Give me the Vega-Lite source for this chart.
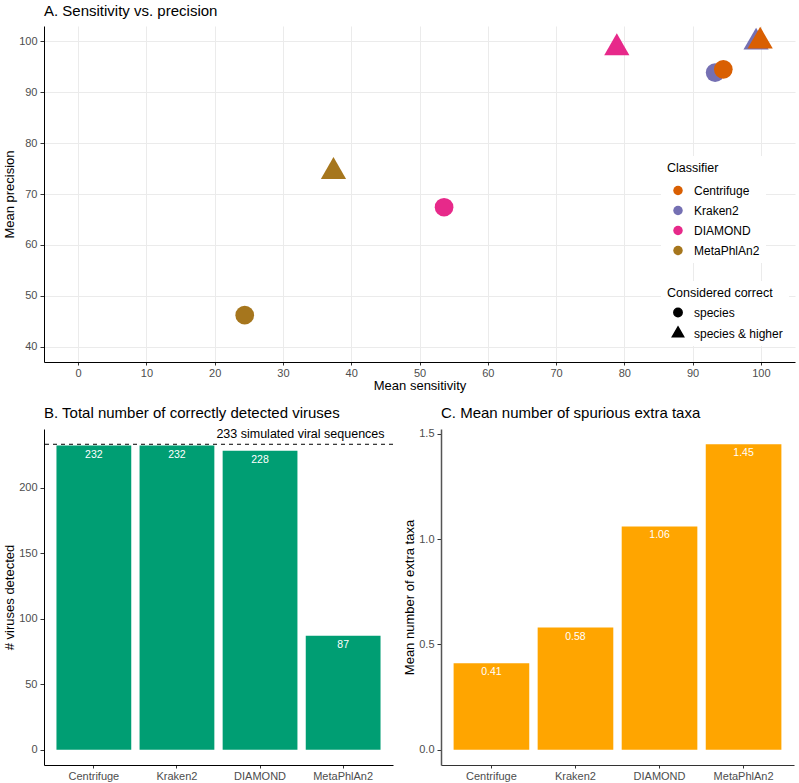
{
  "$schema": "https://vega.github.io/schema/vega-lite/v6.json",
  "padding": {"left": 3, "top": 4, "right": 3, "bottom": 2},
  "background": "white",
  "config": {
    "font": "Liberation Sans",
    "view": {"stroke": null},
    "title": {"fontSize": 15, "fontWeight": "normal", "anchor": "start", "frame": "group", "offset": 7, "color": "black"},
    "axis": {"labelColor": "#4D4D4D", "labelFontSize": 11, "titleFontSize": 13, "titleFontWeight": "normal", "titleColor": "black", "tickColor": "#333333", "tickSize": 3, "labelPadding": 2, "titlePadding": 2, "domainColor": "black", "domainWidth": 1, "grid": false},
    "axisY": {"tickSize": 4, "labelPadding": 3},
    "legend": {"titleFontWeight": "normal", "titleFontSize": 12.5, "labelFontSize": 12, "titleColor": "black", "labelColor": "black"}
  },
  "datasets": {
    "points": [
      {"classifier": "MetaPhlAn2", "correct": "species", "sensitivity": 24.4, "precision": 46.2},
      {"classifier": "MetaPhlAn2", "correct": "species & higher", "sensitivity": 37.4, "precision": 74.4},
      {"classifier": "DIAMOND", "correct": "species", "sensitivity": 53.6, "precision": 67.4},
      {"classifier": "DIAMOND", "correct": "species & higher", "sensitivity": 78.9, "precision": 98.7},
      {"classifier": "Kraken2", "correct": "species", "sensitivity": 93.3, "precision": 93.85},
      {"classifier": "Kraken2", "correct": "species & higher", "sensitivity": 99.3, "precision": 99.8},
      {"classifier": "Centrifuge", "correct": "species", "sensitivity": 94.5, "precision": 94.5},
      {"classifier": "Centrifuge", "correct": "species & higher", "sensitivity": 99.9, "precision": 100.0}
    ],
    "viruses": [
      {"classifier": "Centrifuge", "detected": 232},
      {"classifier": "Kraken2", "detected": 232},
      {"classifier": "DIAMOND", "detected": 228},
      {"classifier": "MetaPhlAn2", "detected": 87}
    ],
    "simulated": [
      {"classifier": "MetaPhlAn2", "simulated": 233, "label": "233 simulated viral sequences"}
    ],
    "extra": [
      {"classifier": "Centrifuge", "extra": 0.41},
      {"classifier": "Kraken2", "extra": 0.58},
      {"classifier": "DIAMOND", "extra": 1.06},
      {"classifier": "MetaPhlAn2", "extra": 1.45}
    ]
  },
  "spacing": 13,
  "vconcat": [
    {
      "title": {"text": "A. Sensitivity vs. precision"},
      "width": 751,
      "height": 336,
      "data": {"name": "points"},
      "mark": {"type": "point", "filled": true, "opacity": 1, "size": 350},
      "encoding": {
        "x": {"field": "sensitivity", "type": "quantitative",
          "scale": {"domain": [-5, 105], "nice": false, "zero": false},
          "axis": {"values": [0, 10, 20, 30, 40, 50, 60, 70, 80, 90, 100], "title": "Mean sensitivity", "grid": true, "gridColor": "#EBEBEB", "gridWidth": 1, "titlePadding": 1}},
        "y": {"field": "precision", "type": "quantitative",
          "scale": {"domain": [37, 103], "nice": false, "zero": false},
          "axis": {"values": [40, 50, 60, 70, 80, 90, 100], "title": "Mean precision", "grid": true, "gridColor": "#EBEBEB", "gridWidth": 1}},
        "color": {"field": "classifier", "type": "nominal",
          "scale": {"domain": ["Centrifuge", "Kraken2", "DIAMOND", "MetaPhlAn2"], "range": ["#D95F02", "#7570B3", "#E7298A", "#A6761D"]},
          "legend": {"title": "Classifier", "orient": "none", "legendX": 617, "legendY": 130, "fillColor": "white", "padding": 6, "symbolType": "circle", "symbolSize": 90, "symbolOffset": 5, "labelOffset": 10, "rowPadding": 8, "titlePadding": 10}},
        "shape": {"field": "correct", "type": "nominal",
          "scale": {"domain": ["species", "species & higher"], "range": ["circle", "M0,-1.555L1.347,0.778L-1.347,0.778Z"]},
          "legend": {"title": "Considered correct", "orient": "none", "legendX": 617, "legendY": 255, "fillColor": "white", "padding": 6, "symbolSize": 70, "symbolFillColor": "black", "symbolStrokeColor": "black", "symbolOffset": 5, "labelOffset": 10, "rowPadding": 3, "titlePadding": 7}}
      }
    },
    {
      "spacing": 9,
      "hconcat": [
        {
          "title": {"text": "B. Total number of correctly detected viruses"},
          "width": 349,
          "height": 336,
          "layer": [
            {
              "data": {"name": "viruses"},
              "mark": {"type": "bar", "color": "#009E73"},
              "encoding": {
                "x": {"field": "classifier", "type": "nominal",
                  "scale": {"domain": ["Centrifuge", "Kraken2", "DIAMOND", "MetaPhlAn2"], "paddingInner": 0.1, "paddingOuter": 0.15},
                  "axis": {"title": null, "labelAngle": 0}},
                "y": {"field": "detected", "type": "quantitative",
                  "scale": {"domain": [-11.65, 244.65], "nice": false, "zero": false},
                  "axis": {"values": [0, 50, 100, 150, 200], "title": "# viruses detected"}}
              }
            },
            {
              "data": {"name": "viruses"},
              "mark": {"type": "text", "baseline": "top", "dy": 4, "color": "white", "fontSize": 10.5},
              "encoding": {
                "x": {"field": "classifier", "type": "nominal"},
                "y": {"field": "detected", "type": "quantitative"},
                "text": {"field": "detected", "type": "quantitative"}
              }
            },
            {
              "data": {"name": "simulated"},
              "mark": {"type": "rule", "strokeDash": [4, 4], "color": "black", "strokeWidth": 1},
              "encoding": {
                "y": {"field": "simulated", "type": "quantitative"}
              }
            },
            {
              "data": {"name": "simulated"},
              "mark": {"type": "text", "align": "right", "baseline": "bottom", "dy": -3, "dx": 4, "fontSize": 12.5, "color": "black"},
              "encoding": {
                "x": {"field": "classifier", "type": "nominal", "bandPosition": 1},
                "y": {"field": "simulated", "type": "quantitative"},
                "text": {"field": "label", "type": "nominal"}
              }
            }
          ]
        },
        {
          "title": {"text": "C. Mean number of spurious extra taxa"},
          "width": 353,
          "height": 336,
          "data": {"name": "extra"},
          "layer": [
            {
              "mark": {"type": "bar", "color": "#FFA500"},
              "encoding": {
                "x": {"field": "classifier", "type": "nominal",
                  "scale": {"domain": ["Centrifuge", "Kraken2", "DIAMOND", "MetaPhlAn2"], "paddingInner": 0.1, "paddingOuter": 0.15},
                  "axis": {"title": null, "labelAngle": 0, "domainColor": "#333333", "domainWidth": 1.2}},
                "y": {"field": "extra", "type": "quantitative",
                  "scale": {"domain": [-0.0725, 1.5225], "nice": false, "zero": false},
                  "axis": {"values": [0, 0.5, 1, 1.5], "format": ".1f", "title": "Mean number of extra taxa", "domainColor": "#555555", "domainWidth": 1.5}}
              }
            },
            {
              "mark": {"type": "text", "baseline": "top", "dy": 4, "color": "white", "fontSize": 10.5},
              "encoding": {
                "x": {"field": "classifier", "type": "nominal"},
                "y": {"field": "extra", "type": "quantitative"},
                "text": {"field": "extra", "type": "quantitative", "format": ".2f"}
              }
            }
          ]
        }
      ]
    }
  ]
}
